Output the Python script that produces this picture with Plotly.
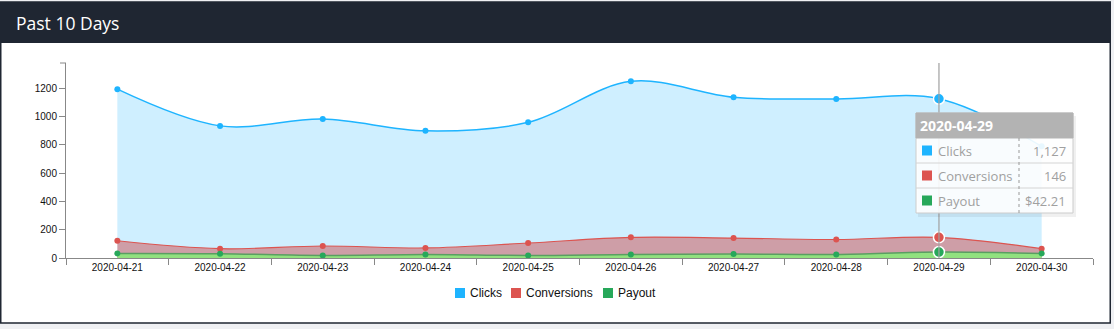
import plotly.graph_objects as go

# ---- data ----
dates = ["2020-04-21", "2020-04-22", "2020-04-23", "2020-04-24", "2020-04-25",
         "2020-04-26", "2020-04-27", "2020-04-28", "2020-04-29", "2020-04-30"]
clicks = [1195, 935, 983, 900, 960, 1250, 1138, 1125, 1127, 790]
conversions = [122, 66, 85, 71, 106, 146, 141, 131, 146, 66]
payout = [32, 30, 18, 25, 18, 25, 28, 25, 42.21, 32]
series_names = ["Clicks", "Conversions", "Payout"]
y_ticks = [0, 200, 400, 600, 800, 1000, 1200]
title_text = "Past 10 Days"
hover_idx = 8

# ---- style ----
W, H = 1114, 329
L, R, T, B = 66, 21, 63, 71
PW, PH = W - L - R, H - T - B
DARK = "#1f2632"
C_CLICK = "#1eb4ff"
C_CONV = "#dc5450"
C_PAY = "#27a85a"
FONT = "Arial, Liberation Sans, sans-serif"
OPEN = "Open Sans, sans-serif"


def px(x):
    return (x - L) / PW


def py(y):
    return (H - B - y) / PH


fig = go.Figure()

series = [clicks, conversions, payout]
colors = [C_CLICK, C_CONV, C_PAY]
fills = ["rgba(30,180,255,0.21)", "rgba(205,60,60,0.45)", "rgba(142,227,126,0.97)"]
lw = [1.5, 1.2, 1.5]
linecol = [C_CLICK, C_CONV, "#5a9e62"]

for name, vals, c, fc, w, lc in zip(series_names, series, colors, fills, lw, linecol):
    fig.add_trace(go.Scatter(
        x=dates, y=vals, name=name, mode="lines",
        line=dict(color=lc, width=w, shape="spline", smoothing=1.0),
        fill="tozeroy", fillcolor=fc, showlegend=False, hoverinfo="skip"))

for name, vals, c in zip(series_names, series, colors):
    fig.add_trace(go.Scatter(
        x=dates, y=vals, mode="markers", marker=dict(color=c, size=6),
        showlegend=False, hoverinfo="skip"))

# hovered points
for vals, c in zip(series, colors):
    fig.add_trace(go.Scatter(
        x=[dates[hover_idx]], y=[vals[hover_idx]], mode="markers",
        marker=dict(color=c, size=11, line=dict(color="white", width=1.5)),
        showlegend=False, hoverinfo="skip"))

shapes = []
# card + header
shapes.append(dict(type="rect", xref="paper", yref="paper", layer="below",
                   x0=px(0.75), x1=px(1110.25), y0=py(2), y1=py(323),
                   fillcolor="white", line=dict(color=DARK, width=1.5)))
shapes.append(dict(type="rect", xref="paper", yref="paper", layer="below",
                   x0=px(0), x1=px(1111), y0=py(2), y1=py(43),
                   fillcolor=DARK, line=dict(width=0)))
# top tick on y axis
shapes.append(dict(type="line", xref="paper", yref="paper",
                   x0=px(60), x1=px(66), y0=1, y1=1,
                   line=dict(color="#888", width=1)))
# hover vertical line
shapes.append(dict(type="line", xref="x", yref="paper",
                   x0=dates[hover_idx], x1=dates[hover_idx], y0=0, y1=1,
                   line=dict(color="rgba(160,160,160,0.8)", width=1.5), layer="above"))
# tooltip
tx0, tx1, ty0, ty1 = 916, 1073, 113, 213
shapes.append(dict(type="rect", xref="paper", yref="paper", layer="above",
                   x0=px(tx0 + 2), x1=px(tx1 + 3), y0=py(ty0 + 3), y1=py(ty1 + 4),
                   fillcolor="rgba(0,0,0,0.06)", line=dict(width=0)))
shapes.append(dict(type="rect", xref="paper", yref="paper", layer="above",
                   x0=px(tx0), x1=px(tx1), y0=py(ty0), y1=py(ty1),
                   fillcolor="rgba(255,255,255,0.9)", line=dict(color="#cccccc", width=1)))
shapes.append(dict(type="rect", xref="paper", yref="paper", layer="above",
                   x0=px(tx0), x1=px(tx1), y0=py(ty0), y1=py(138),
                   fillcolor="#b3b3b3", line=dict(color="#b3b3b3", width=1)))
for yy in (163, 188):
    shapes.append(dict(type="line", xref="paper", yref="paper", layer="above",
                       x0=px(tx0), x1=px(tx1), y0=py(yy), y1=py(yy),
                       line=dict(color="#d4d4d4", width=1)))
shapes.append(dict(type="line", xref="paper", yref="paper", layer="above",
                   x0=px(1019), x1=px(1019), y0=py(138), y1=py(ty1),
                   line=dict(color="#999", width=1, dash="dot")))

annotations = []
annotations.append(dict(xref="paper", yref="paper", x=px(14), y=py(22.5),
                        text=title_text, showarrow=False, xanchor="left", yanchor="middle",
                        font=dict(family=OPEN, size=17.5, color="white")))
annotations.append(dict(xref="paper", yref="paper", x=px(918), y=py(125.5),
                        text="<b>" + dates[hover_idx] + "</b>", showarrow=False,
                        xanchor="left", yanchor="middle",
                        font=dict(family=OPEN, size=14, color="white")))
row_y = [150.5, 175.5, 200.5]
values_txt = ["{:,}".format(clicks[hover_idx]), "{:,}".format(conversions[hover_idx]),
              "${:.2f}".format(payout[hover_idx])]
for name, c, ry, vt in zip(series_names, colors, row_y, values_txt):
    shapes.append(dict(type="rect", xref="paper", yref="paper", layer="above",
                       x0=px(922), x1=px(932), y0=py(ry - 5), y1=py(ry + 5),
                       fillcolor=c, line=dict(width=0)))
    annotations.append(dict(xref="paper", yref="paper", x=px(936), y=py(ry),
                            text=name, showarrow=False, xanchor="left", yanchor="middle",
                            font=dict(family=OPEN, size=13, color="#a0a0a0")))
    annotations.append(dict(xref="paper", yref="paper", x=px(1068), y=py(ry),
                            text=vt, showarrow=False, xanchor="right", yanchor="middle",
                            font=dict(family=OPEN, size=13, color="#a0a0a0")))

# legend (manual)
leg = [(455, 469), (511, 525), (603, 617)]
for name, c, (sx, tx) in zip(series_names, colors, leg):
    shapes.append(dict(type="rect", xref="paper", yref="paper",
                       x0=px(sx), x1=px(sx + 10), y0=py(288), y1=py(298),
                       fillcolor=c, line=dict(width=0)))
    annotations.append(dict(xref="paper", yref="paper", x=px(tx - 1), y=py(293),
                            text=name, showarrow=False, xanchor="left", yanchor="middle",
                            font=dict(family=FONT, size=12, color="#111")))

fig.update_layout(
    width=W, height=H,
    margin=dict(l=L, r=R, t=T, b=B, pad=0),
    paper_bgcolor="#eff0f3", plot_bgcolor="rgba(0,0,0,0)",
    hovermode=False, showlegend=False,
    shapes=shapes, annotations=annotations,
    xaxis=dict(type="category", categoryorder="array", categoryarray=dates,
               range=[-0.5, len(dates) - 0.5],
               showline=True, linecolor="#888", linewidth=1,
               ticks="outside", tickson="boundaries", ticklen=6, tickcolor="#888",
               showgrid=False, zeroline=False,
               tickfont=dict(family=FONT, size=10, color="#111"), fixedrange=True),
    yaxis=dict(range=[0, 1380], tickvals=y_ticks,
               showline=True, linecolor="#888", linewidth=1,
               ticks="outside", ticklen=6, tickcolor="#888",
               showgrid=False, zeroline=False,
               tickfont=dict(family=FONT, size=10, color="#111"), fixedrange=True),
)

fig.write_html("out.html", config={"displayModeBar": False})
